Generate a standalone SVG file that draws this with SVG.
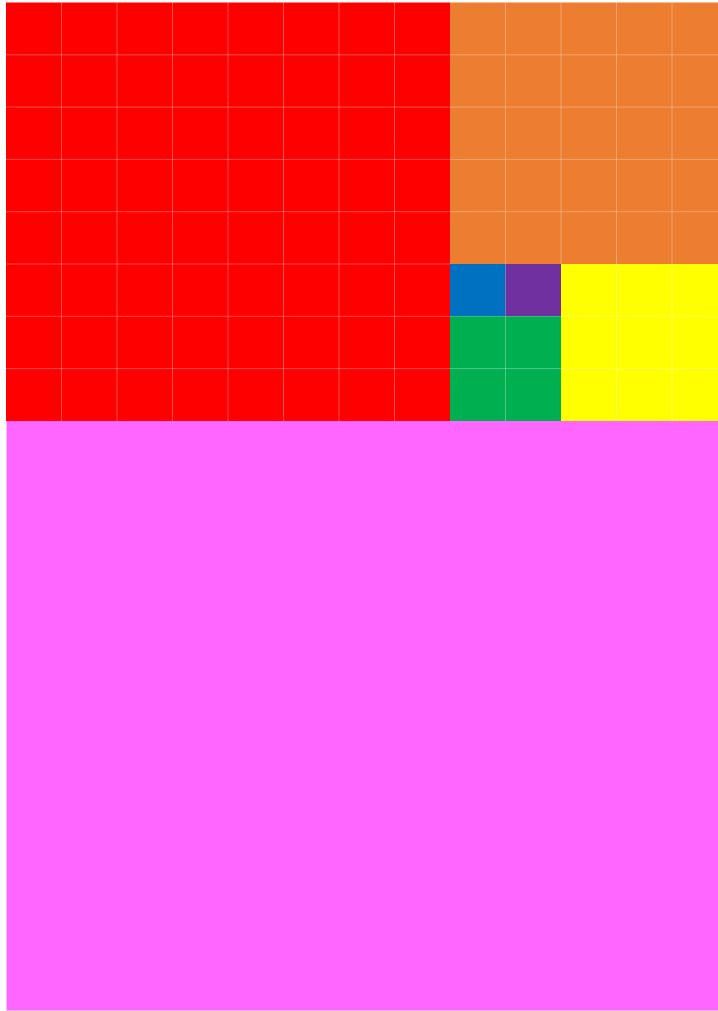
<svg xmlns="http://www.w3.org/2000/svg" width="718" height="1011" viewBox="0 0 718 1011">
<style>
.g{stroke:#ffffff;stroke-opacity:0.3;stroke-width:1;fill:none}
</style>
<rect width="718" height="1011" fill="#ffffff"/>
<g id="red">
<rect x="6" y="2.5" width="444" height="418.5" fill="#FF0000"/>
<path class="g" d="M61.5 2.5V421M117 2.5V421M172.5 2.5V421M228 2.5V421M283.5 2.5V421M339 2.5V421M394.5 2.5V421M6 54.8H450M6 107.1H450M6 159.4H450M6 211.7H450M6 264H450M6 316.3H450M6 368.6H450"/>
</g>
<g id="orange">
<rect x="450" y="2.5" width="277.5" height="261.5" fill="#ED7D31"/>
<path class="g" d="M505.5 2.5V264M561 2.5V264M616.5 2.5V264M672 2.5V264M450 54.8H728M450 107.1H728M450 159.4H728M450 211.7H728"/>
</g>
<g id="blue">
<rect x="450" y="264" width="55.5" height="52.3" fill="#0070C0"/>
</g>
<g id="purple">
<rect x="505.5" y="264" width="55.5" height="52.3" fill="#7030A0"/>
</g>
<g id="green">
<rect x="450" y="316.3" width="111" height="104.7" fill="#00B050"/>
<path class="g" d="M505.5 316.3V421M450 368.6H561"/>
</g>
<g id="yellow">
<rect x="561" y="264" width="166.5" height="157" fill="#FFFF00"/>
<path class="g" d="M616.5 264V421M672 264V421M561 316.3H728M561 368.6H728"/>
</g>
<g id="magenta">
<rect x="6.5" y="421" width="711.5" height="589.5" fill="#FF66FF"/>
</g>
<g id="connectors"/>
</svg>
